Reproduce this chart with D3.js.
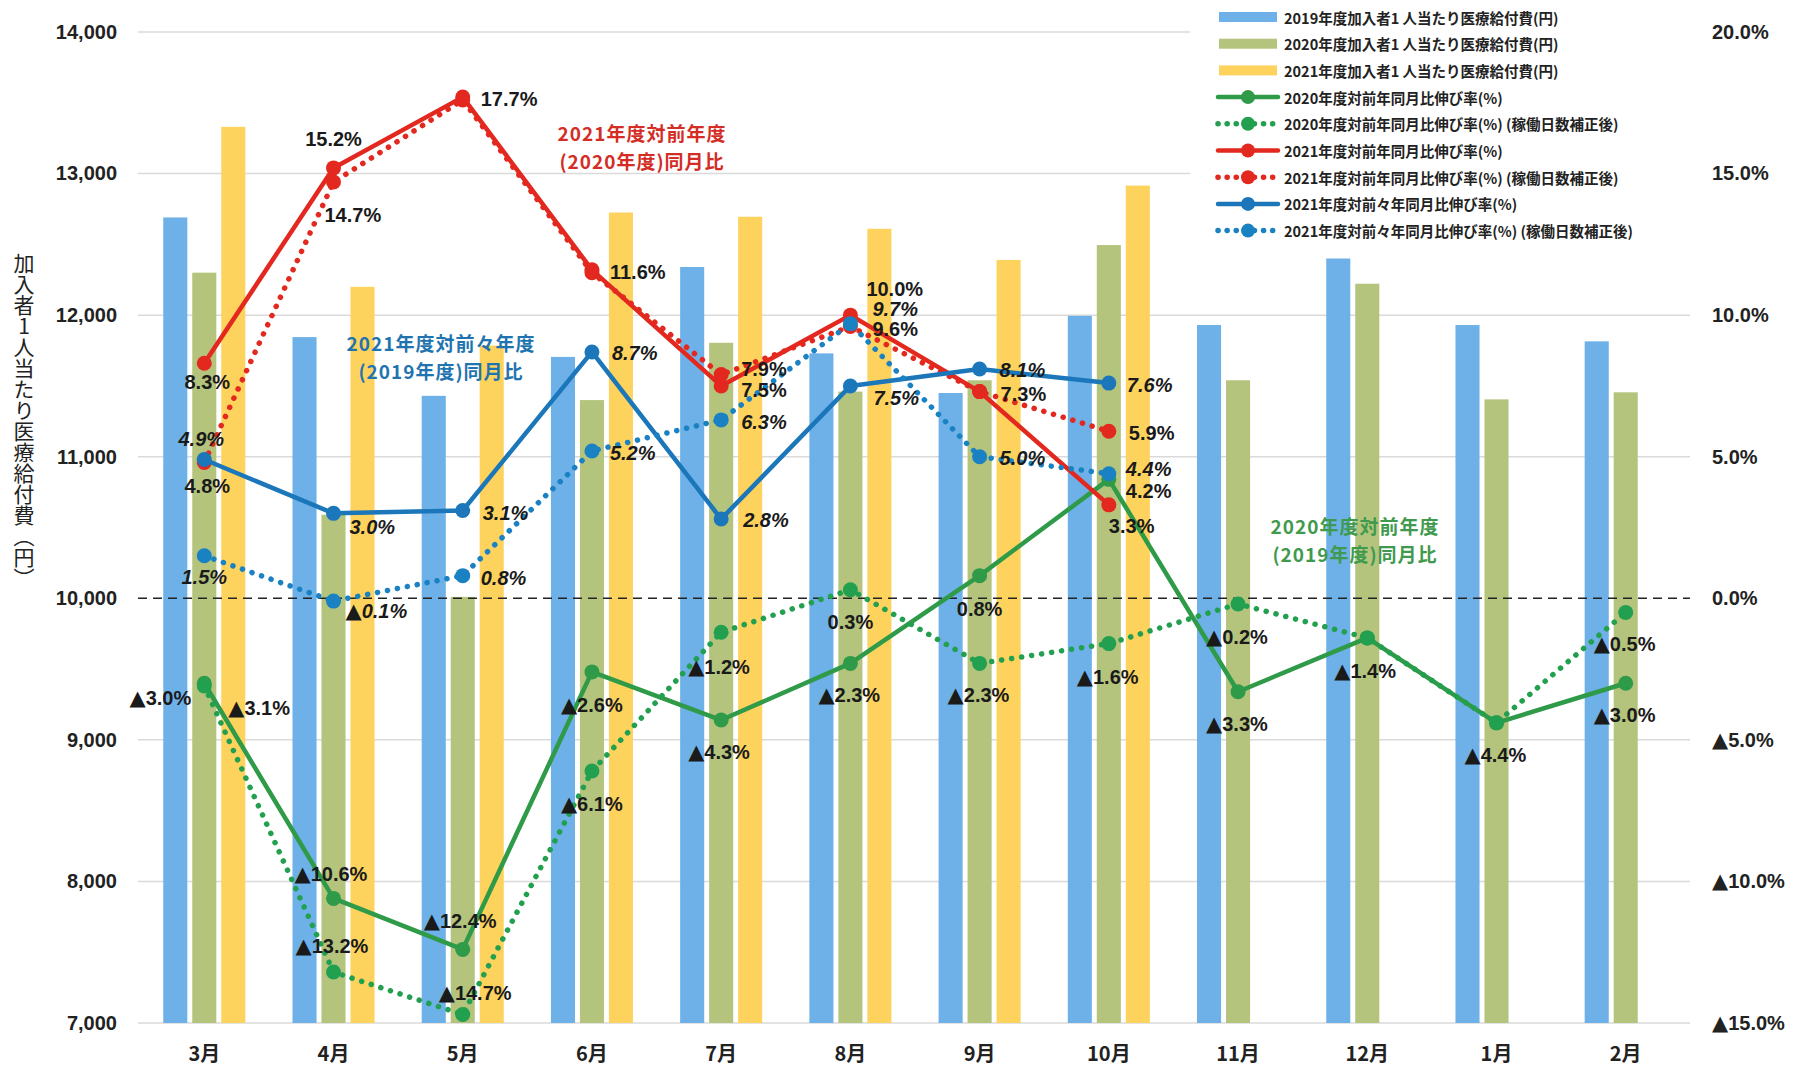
<!DOCTYPE html>
<html>
<meta charset="utf-8">
<style>
  body { margin: 0; background: #fff; }
  svg text { font-family: "Liberation Sans", Arial, "Noto Sans CJK JP", sans-serif; }
  .axis text { font-size: 20px; font-weight: bold; fill: #222; }
  .lbl { font-size: 20px; font-weight: bold; fill: #1a1a1a; }
  .tri { font-family: "DejaVu Sans", sans-serif; font-size: 1.05em; }
  .legend text { font-family: "Noto Sans CJK JP", sans-serif; font-size: 14.5px; font-weight: bold; fill: #222; }
  .note { font-family: "Noto Sans CJK JP", sans-serif; font-size: 19px; font-weight: bold; letter-spacing: 1px; }
  .ytitle { font-family: "Noto Sans CJK JP", sans-serif; font-size: 21px; fill: #222; writing-mode: vertical-rl; text-orientation: upright; }
</style>
<body>
<script src="https://d3js.org/d3.v7.min.js"></script>
<script>
// months of the fiscal year
var months = ["3月", "4月", "5月", "6月", "7月", "8月", "9月", "10月", "11月", "12月", "1月", "2月"];

// 加入者1人当たり医療給付費 (円)
var cost2019 = [12690, 11845, 11430, 11705, 12340, 11730, 11450, 11995, 11930, 12400, 11930, 11815];
var cost2020 = [12300, 10590, 10010, 11400, 11805, 11460, 11540, 12495, 11540, 12222, 11405, 11455];
var cost2021 = [13330, 12200, 11785, 12725, 12695, 12610, 12390, 12915, null, null, null, null];

// 伸び率 (%)
var g2020    = [-3.0, -10.6, -12.4, -2.6, -4.3, -2.3, 0.8, 4.2, -3.3, -1.4, -4.4, -3.0];
var g2020adj = [-3.1, -13.2, -14.7, -6.1, -1.2, 0.3, -2.3, -1.6, -0.2, -1.4, -4.4, -0.5];
var r2021    = [8.3, 15.2, 17.7, 11.6, 7.5, 10.0, 7.3, 3.3, null, null, null, null];
var r2021adj = [4.8, 14.7, 17.6, 11.5, 7.9, 9.6, 7.3, 5.9, null, null, null, null];
var b2021    = [4.9, 3.0, 3.1, 8.7, 2.8, 7.5, 8.1, 7.6, null, null, null, null];
var b2021adj = [1.5, -0.1, 0.8, 5.2, 6.3, 9.7, 5.0, 4.4, null, null, null, null];

var leftTicks = [7000, 8000, 9000, 10000, 11000, 12000, 13000, 14000];
var rightTicks = [-15, -10, -5, 0, 5, 10, 15, 20];

// data label placement [anchor, dx, dy] ; null = no label
var offG = [["end",-13,15],["start",-39,-24],["start",-39,-28],["start",-31,33],["start",-33,32],["start",-32,32],
            ["middle",0,33],["start",17,12],["start",-32,32],["start",-33,33],["start",-32,32],["start",-32,32]];
var offGa = [["start",24,22],["start",-38,-26],["start",-24,-22],["start",-31,33],["start",-33,35],["middle",0,32],
             ["start",-32,32],["start",-32,33],["start",-32,33],null,null,["start",-32,32]];
var offR = [["middle",3,19],["middle",0,-29],["start",18,2],["start",18,2],["start",20,4],["start",16,-26],["start",21,2],["start",0,21]];
var offRa = [["middle",3,24],["start",-9,33],null,null,["start",20,-6],["start",22,3],null,["start",20,2]];
var offB = [["middle",-3,-21],["start",16,14],["start",20,2],["start",20,1],["start",22,1],["start",23,12],["start",20,1],["start",18,2]];
var offBa = [["middle",0,21],["start",12,10],["start",18,2],["start",18,2],["start",20,2],["start",22,-15],["start",20,1],["start",17,-5]];

var width = 1807, height = 1078;

var svg = d3.select("body").append("svg")
    .attr("width", width)
    .attr("height", height);

var x0 = d3.scaleBand().domain(months).range([140, 1690]).paddingInner(0.365).paddingOuter(0.18);
var x1 = d3.scaleBand().domain([0, 1, 2]).range([0, x0.bandwidth()]).paddingInner(0.17);
var yL = d3.scaleLinear().domain([7000, 14000]).range([1023, 32]);
var yR = d3.scaleLinear().domain([-15, 20]).range([1023, 32]);
function cx(m) { return x0(m) + x0.bandwidth() / 2; }

// writes a percentage into a text element, negative values get a ▲ mark
function writePct(sel, v) {
  sel.text(null);
  if (v < 0) sel.append("tspan").attr("class", "tri").text("▲");
  sel.append("tspan").text(Math.abs(v).toFixed(1) + "%");
}

// gridlines
svg.append("g").selectAll("line")
    .data(leftTicks.filter(function(d) { return d !== 10000; }))
  .enter().append("line")
    .attr("x1", 138).attr("x2", 1690)
    .attr("y1", function(d) { return yL(d); })
    .attr("y2", function(d) { return yL(d); })
    .style("stroke", "#dadada")
    .style("stroke-width", 1.5);

// legend background
svg.append("rect")
    .attr("x", 1190).attr("y", 0).attr("width", 500).attr("height", 246)
    .style("fill", "#fff");

// bars
var barSeries = [
  {values: cost2019, color: "#6db1e8", name: "2019年度加入者1 人当たり医療給付費(円)"},
  {values: cost2020, color: "#b4c47d", name: "2020年度加入者1 人当たり医療給付費(円)"},
  {values: cost2021, color: "#fdd35e", name: "2021年度加入者1 人当たり医療給付費(円)"}
];

barSeries.forEach(function(s, i) {
  svg.append("g").selectAll("rect")
      .data(months.map(function(m, j) { return {m: m, v: s.values[j]}; }).filter(function(d) { return d.v != null; }))
    .enter().append("rect")
      .attr("x", function(d) { return x0(d.m) + x1(i); })
      .attr("width", x1.bandwidth())
      .attr("y", function(d) { return yL(d.v); })
      .attr("height", function(d) { return yL(7000) - yL(d.v); })
      .style("fill", s.color);
});

// zero line
svg.append("line")
    .attr("x1", 138).attr("x2", 1690)
    .attr("y1", yR(0)).attr("y2", yR(0))
    .style("stroke", "#222")
    .style("stroke-width", 1.6)
    .style("stroke-dasharray", "9,6");

// lines
var lineSeries = [
  {values: g2020,    color: "#2f9a48", dotted: false, italic: false, offs: offG,  name: "2020年度対前年同月比伸び率(%)"},
  {values: g2020adj, color: "#22a04f", dotted: true,  italic: false, offs: offGa, name: "2020年度対前年同月比伸び率(%) (稼働日数補正後)"},
  {values: r2021,    color: "#e3291f", dotted: false, italic: false, offs: offR,  name: "2021年度対前年同月比伸び率(%)"},
  {values: r2021adj, color: "#e3291f", dotted: true,  italic: false, offs: offRa, name: "2021年度対前年同月比伸び率(%) (稼働日数補正後)"},
  {values: b2021,    color: "#1b77b9", dotted: false, italic: true,  offs: offB,  name: "2021年度対前々年同月比伸び率(%)"},
  {values: b2021adj, color: "#1a82c2", dotted: true,  italic: true,  offs: offBa, name: "2021年度対前々年同月比伸び率(%) (稼働日数補正後)"}
];

var line = d3.line()
    .defined(function(d) { return d.v != null; })
    .x(function(d) { return cx(d.m); })
    .y(function(d) { return yR(d.v); });

lineSeries.forEach(function(s) {
  var pts = months.map(function(m, j) { return {m: m, v: s.values[j], off: s.offs[j]}; });
  var g = svg.append("g");
  g.append("path")
      .datum(pts)
      .attr("d", line)
      .style("fill", "none")
      .style("stroke", s.color)
      .style("stroke-width", s.dotted ? 5.5 : 4.5)
      .style("stroke-linecap", "round")
      .style("stroke-linejoin", "round")
      .style("stroke-dasharray", s.dotted ? "0.1,10" : null);
  g.selectAll("circle")
      .data(pts.filter(function(d) { return d.v != null; }))
    .enter().append("circle")
      .attr("cx", function(d) { return cx(d.m); })
      .attr("cy", function(d) { return yR(d.v); })
      .attr("r", 7.5)
      .style("fill", s.color);
  s.pts = pts;
});

// data labels
lineSeries.forEach(function(s) {
  svg.append("g").selectAll("text")
      .data(s.pts.filter(function(d) { return d.v != null && d.off; }))
    .enter().append("text")
      .attr("class", "lbl")
      .attr("x", function(d) { return cx(d.m) + d.off[1]; })
      .attr("y", function(d) { return yR(d.v) + d.off[2]; })
      .attr("text-anchor", function(d) { return d.off[0]; })
      .attr("dominant-baseline", "central")
      .style("font-style", s.italic ? "italic" : null)
      .each(function(d) { writePct(d3.select(this), d.v); });
});

// notes
var notes = [
  {x: 642, y: 132, color: "#d42d26", lines: ["2021年度対前年度", "(2020年度)同月比"]},
  {x: 441, y: 342, color: "#1f74b0", lines: ["2021年度対前々年度", "(2019年度)同月比"]},
  {x: 1355, y: 525, color: "#3f9a4d", lines: ["2020年度対前年度", "(2019年度)同月比"]}
];
notes.forEach(function(n) {
  var t = svg.append("text")
      .attr("class", "note")
      .attr("text-anchor", "middle")
      .style("fill", n.color);
  n.lines.forEach(function(l, i) {
    t.append("tspan")
        .attr("x", n.x)
        .attr("y", n.y + i * 28)
        .attr("dominant-baseline", "central")
        .text(l);
  });
});

// axes
var axL = svg.append("g")
    .attr("class", "axis")
    .attr("transform", "translate(117,0)")
    .call(d3.axisLeft(yL).tickValues(leftTicks).tickFormat(d3.format(",")).tickSize(0).tickPadding(0));
axL.select(".domain").remove();

var axR = svg.append("g")
    .attr("class", "axis")
    .attr("transform", "translate(1712,0)")
    .call(d3.axisRight(yR).tickValues(rightTicks).tickSize(0).tickPadding(0));
axR.select(".domain").remove();
axR.selectAll(".tick text").each(function(v) { writePct(d3.select(this), v); });

var axB = svg.append("g")
    .attr("class", "axis")
    .attr("transform", "translate(0,1023)")
    .call(d3.axisBottom(x0).tickSize(0).tickPadding(24));
axB.select(".domain").remove();
axB.selectAll("text").style("font-family", "\"Noto Sans CJK JP\", sans-serif");

// y axis title (vertical, upright characters)
svg.append("text")
    .attr("class", "ytitle")
    .attr("x", 24)
    .attr("y", 253)
    .text("加入者1人当たり医療給付費（円）");

// legend
var legendItems = barSeries.map(function(s) { return {type: "bar", color: s.color, name: s.name}; })
    .concat(lineSeries.map(function(s) { return {type: s.dotted ? "dot" : "line", color: s.color, name: s.name}; }));

var legend = svg.append("g").attr("class", "legend");
legendItems.forEach(function(d, i) {
  var y = 17 + i * 26.7;
  var g = legend.append("g").attr("transform", "translate(0," + y + ")");
  if (d.type === "bar") {
    g.append("rect").attr("x", 1219).attr("y", -5).attr("width", 58).attr("height", 10).style("fill", d.color);
  } else {
    g.append("line").attr("x1", 1218).attr("x2", 1278)
        .style("stroke", d.color)
        .style("stroke-width", d.type === "dot" ? 5.5 : 4.5)
        .style("stroke-linecap", "round")
        .style("stroke-dasharray", d.type === "dot" ? "0.1,9" : null);
    g.append("circle").attr("cx", 1248).attr("r", 7).style("fill", d.color);
  }
  g.append("text").attr("x", 1284).attr("dominant-baseline", "central").text(d.name);
});
</script>
</body>
</html>
